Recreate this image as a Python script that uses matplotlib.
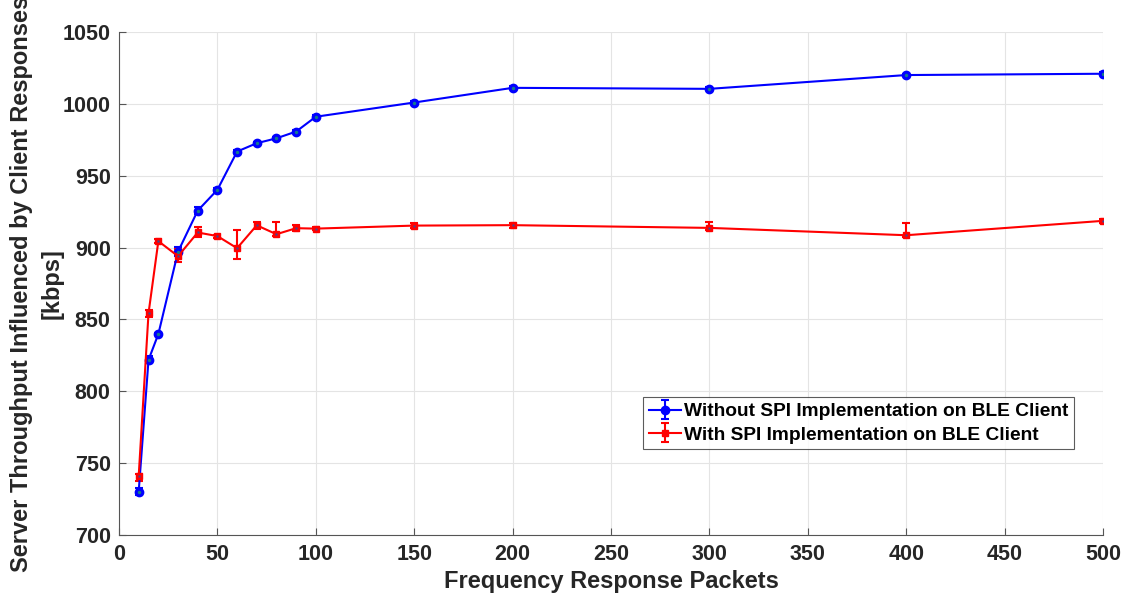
import matplotlib
matplotlib.use("Agg")
import matplotlib.pyplot as plt
import numpy as np

plt.rcParams['font.family'] = ['Liberation Sans', 'DejaVu Sans']
plt.rcParams['font.weight'] = 'bold'

packets = [10, 15, 20, 30, 40, 50, 60, 70, 80, 90, 100, 150, 200, 300, 400, 500]

no_spi = [730.2, 821.9, 839.9, 897.2, 925.7, 940.2, 966.8, 972.6, 976.0, 980.7,
          991.0, 1000.9, 1011.1, 1010.4, 1020.0, 1020.9]
no_spi_err = [2.5, 2.5, 1.0, 3.0, 2.5, 1.5, 1.0, 1.0, 1.0, 1.0,
              1.0, 1.0, 1.0, 1.0, 1.0, 1.0]

with_spi = [741.0, 854.3, 904.5, 894.0, 910.5, 908.0, 899.6, 915.5, 909.3, 913.5,
            913.2, 915.3, 915.6, 913.7, 908.6, 918.6]
with_spi_lo = [3.5, 2.5, 1.5, 4.0, 3.0, 1.0, 7.5, 2.5, 1.5, 2.0,
               0.8, 1.5, 2.0, 1.5, 1.2, 1.2]
with_spi_hi = [1.5, 2.0, 1.5, 5.0, 3.5, 1.0, 12.5, 2.5, 8.5, 2.5,
               0.8, 1.5, 1.8, 4.0, 8.5, 1.2]

fig = plt.figure(figsize=(11.29, 6.02), dpi=100)
ax = fig.add_axes([0.1054, 0.111, 0.8716, 0.836])

blue = '#0000ff'
red = '#ff0000'

ax.errorbar(packets, no_spi, yerr=no_spi_err, color=blue, lw=1.5,
            marker='o', ms=6, mfc=blue, mec=blue, capsize=3, elinewidth=1.5,
            capthick=1.5, label='Without SPI Implementation on BLE Client', zorder=3)
ax.plot(packets, no_spi, ls='none', marker='o', ms=2.5, mfc='#137a8c',
        mec='none', zorder=4)

ax.errorbar(packets, with_spi, yerr=[with_spi_lo, with_spi_hi], color=red, lw=1.5,
            marker='s', ms=5, mfc=red, mec=red, capsize=3, elinewidth=1.5,
            capthick=1.5, label='With SPI Implementation on BLE Client', zorder=3)
ax.plot(packets, with_spi, ls='none', marker='s', ms=2, mfc='#2a4fa0',
        mec='none', zorder=4)

ax.set_xlim(0, 500)
ax.set_ylim(700, 1050)
ax.set_xticks(np.arange(0, 501, 50))
ax.set_yticks(np.arange(700, 1051, 50))
ax.grid(True, color='#e4e4e4', lw=0.8)
ax.set_axisbelow(True)

for side in ('top', 'right'):
    ax.spines[side].set_visible(False)
for side in ('left', 'bottom'):
    ax.spines[side].set_color('#555555')
    ax.spines[side].set_linewidth(0.8)

ax.tick_params(direction='in', length=5, width=0.8, color='#555555',
               labelsize=15.5, labelcolor='#262626', pad=6)
for lbl in ax.get_xticklabels() + ax.get_yticklabels():
    lbl.set_fontweight('bold')

ax.set_xlabel('Frequency Response Packets', fontsize=17, fontweight='bold',
              color='#262626', labelpad=4)
ax.set_ylabel('Server Throughput Influenced by Client Responses\n[kbps]',
              fontsize=17, fontweight='bold', color='#262626',
              linespacing=1.45)
ax.yaxis.set_label_coords(-0.056, 0.5)

leg = ax.legend(loc='upper left', bbox_to_anchor=(0.5325, 0.274),
                fontsize=13.8, frameon=True, fancybox=False, borderpad=0.3,
                handlelength=1.7, handletextpad=0.15, labelspacing=0.3,
                borderaxespad=0)
leg.get_frame().set_edgecolor('#333333')
leg.get_frame().set_linewidth(0.8)
for t in leg.get_texts():
    t.set_fontweight('bold')
    t.set_color('black')

fig.savefig('out.png', dpi=100)
